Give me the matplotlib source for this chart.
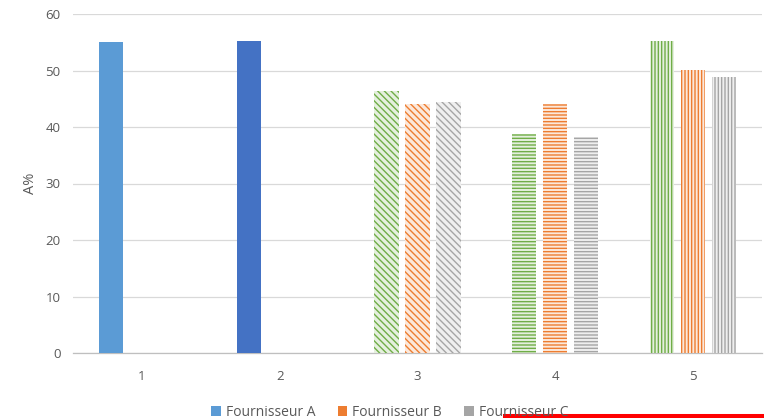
import numpy as np
import matplotlib
matplotlib.use("Agg")
import matplotlib.pyplot as plt
from matplotlib.patches import Patch, Rectangle
from matplotlib.colors import to_rgb

# Categories and supplier values (NaN = no bar)
categories = ["1", "2", "3", "4", "5"]
fournisseur_a = [55.0, 55.2, 46.3, 38.8, 55.2]
fournisseur_b = [np.nan, np.nan, 44.0, 44.0, 50.1]
fournisseur_c = [np.nan, np.nan, 44.5, 38.2, 48.8]
series_names = ["Fournisseur A", "Fournisseur B", "Fournisseur C"]
y_ticks = [0, 10, 20, 30, 40, 50, 60]

# Styling
legend_colors = ["#5B9BD5", "#ED7D31", "#A5A5A5"]
pattern_colors = ["#70AD47", "#ED7D31", "#A5A5A5"]
solid_a_colors = ["#5B9BD5", "#4472C4"]
cat_hatch = [None, None, "\\\\\\\\\\", "-----", "|||||"]
text_color = "#595959"

plt.rcParams["font.family"] = ["Open Sans", "DejaVu Sans"]
plt.rcParams["hatch.linewidth"] = 1.0


def tint(c, amount=0.18):
    r, g, b = to_rgb(c)
    return (1 - amount * (1 - r), 1 - amount * (1 - g), 1 - amount * (1 - b))


fig = plt.figure(figsize=(7.64, 4.18), dpi=100)
ax = fig.add_axes([73 / 764, 65 / 418, 689 / 764, 339 / 418])

x = np.arange(len(categories))
width = 0.175
offsets = [-0.225, 0.0, 0.225]
series = [fournisseur_a, fournisseur_b, fournisseur_c]

for si, vals in enumerate(series):
    for ci, v in enumerate(vals):
        if np.isnan(v):
            continue
        h = cat_hatch[ci]
        if h is None:
            ax.bar(x[ci] + offsets[si], v, width, color=solid_a_colors[ci],
                   linewidth=0, zorder=3)
        else:
            col = pattern_colors[si]
            ax.bar(x[ci] + offsets[si], v, width, facecolor=tint(col),
                   edgecolor=col, hatch=h, linewidth=0, zorder=3)

ax.set_xlim(-0.5, len(categories) - 0.5)
ax.set_ylim(0, 60)
ax.set_yticks(y_ticks)
ax.set_xticks(x)
ax.set_xticklabels(categories)
ax.grid(axis="y", color="#D9D9D9", linewidth=0.9, zorder=0)
for side in ["top", "right", "left"]:
    ax.spines[side].set_visible(False)
ax.spines["bottom"].set_color("#BFBFBF")
ax.spines["bottom"].set_linewidth(0.9)
ax.tick_params(axis="both", length=0, colors=text_color, labelsize=9.5)
ax.tick_params(axis="y", pad=9)
ax.tick_params(axis="x", pad=12)
ax.set_ylabel("A%", color=text_color, fontsize=10.5, labelpad=5)

handles = [Patch(facecolor=c, edgecolor="none") for c in legend_colors]
fig.legend(handles, series_names, loc="center", bbox_to_anchor=(0.51, 0.013),
           ncol=3, frameon=False, fontsize=10, labelcolor=text_color,
           handlelength=0.7, handleheight=0.7, handletextpad=0.35,
           columnspacing=1.6)

# Red frame partly visible at the lower edge
fig.add_artist(Rectangle((504.7 / 764, -0.2), 0.6, 0.2 + 2.5 / 418,
                         transform=fig.transFigure, fill=False,
                         edgecolor="#FF0000", linewidth=2.9, clip_on=False))

fig.savefig("out.png", dpi=100)
